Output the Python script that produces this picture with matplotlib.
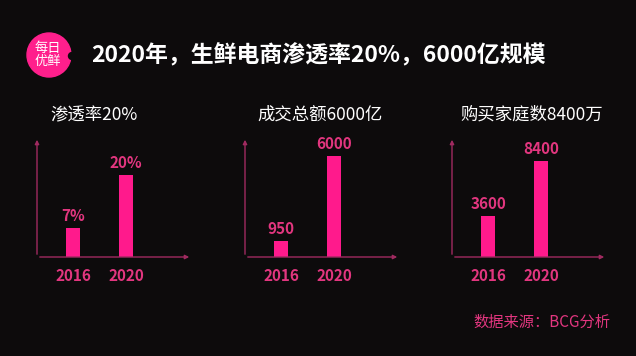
import matplotlib
matplotlib.use('Agg')
import matplotlib.pyplot as plt
from matplotlib.patches import Circle

plt.rcParams['font.family'] = ['Noto Sans CJK SC', 'DejaVu Sans']

# data
title = '2020年，生鲜电商渗透率20%，6000亿规模'
years = ['2016', '2020']
panel_titles = ['渗透率20%', '成交总额6000亿', '购买家庭数8400万']
values = [[7, 20], [950, 6000], [3600, 8400]]
value_labels = [['7%', '20%'], ['950', '6000'], ['3600', '8400']]
ymax = [29.3, 7130, 10500]
source = '数据来源：BCG分析'

BG = '#0d0b0c'
BAR = '#ff1a8c'
TXT = '#e2367f'
AXC = '#a02a60'

W, H = 636, 356
fig = plt.figure(figsize=(W / 100, H / 100), dpi=100, facecolor=BG)

# full-figure overlay in pixel coords
bg = fig.add_axes([0, 0, 1, 1])
bg.set_xlim(0, W)
bg.set_ylim(H, 0)
bg.axis('off')
bg.set_facecolor(BG)

# logo
bg.add_patch(Circle((49, 55), 22, color='#ff1f8c', zorder=2))
bg.add_patch(Circle((72, 56), 3.5, color=BG, zorder=3))
bg.text(48, 55, '每日\n优鲜', color='white', fontsize=9.5, ha='center', va='center',
        linespacing=1.0, zorder=4)

bg.text(91, 56, title, color='white', fontsize=16.5, fontweight='bold',
        ha='left', va='center')

title_x = [50, 257, 460]
axis_left = [37, 245, 452]
for i in range(3):
    bg.text(title_x[i], 115, panel_titles[i], color='white', fontsize=12.5,
            ha='left', va='center')

    ax = fig.add_axes([axis_left[i] / W, 1 - 257 / H, 155 / W, 120 / H])
    ax.set_facecolor('none')
    ax.bar([0, 1], values[i], width=0.27, color=BAR, zorder=2)
    ax.set_xlim(-0.68, 2.24)
    ax.set_ylim(0, ymax[i])
    for s in ax.spines.values():
        s.set_visible(False)
    ax.set_xticks([])
    ax.set_yticks([])
    arrow = dict(arrowstyle='-|>', color=AXC, lw=1.0, mutation_scale=6)
    ax.annotate('', xy=(1, 0), xytext=(0, 0), xycoords='axes fraction',
                arrowprops=arrow, annotation_clip=False)
    ax.annotate('', xy=(0, 1), xytext=(0, 0), xycoords='axes fraction',
                arrowprops=arrow, annotation_clip=False)
    for j in range(2):
        ax.annotate(value_labels[i][j], (j, values[i][j]), xytext=(0, 3),
                    textcoords='offset points', ha='center', va='bottom',
                    color=TXT, fontsize=11, fontweight='bold')
        ax.annotate(years[j], (j, 0), xytext=(0, -8), textcoords='offset points',
                    ha='center', va='top', color=TXT, fontsize=11,
                    fontweight='bold', annotation_clip=False)

bg.text(610, 322, source, color=TXT, fontsize=11, ha='right', va='center')

fig.savefig('out.png', dpi=100, facecolor=BG)
